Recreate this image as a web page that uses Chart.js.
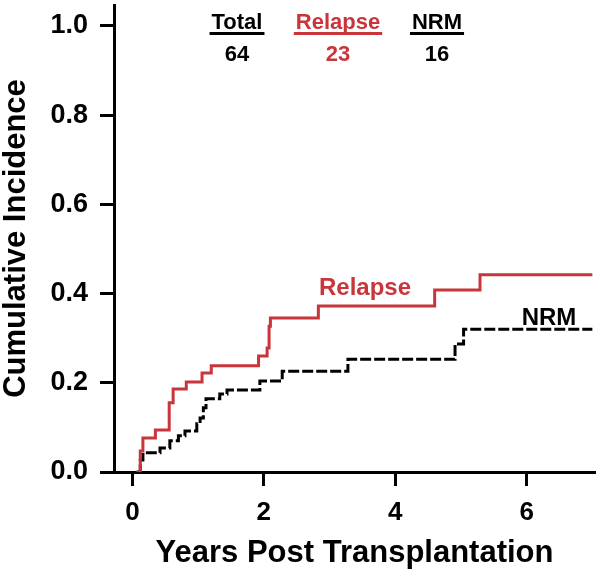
<!DOCTYPE html>
<html>
<head>
<meta charset="utf-8">
<script src="https://cdn.jsdelivr.net/npm/chart.js@4/dist/chart.umd.min.js"></script>
<style>
  html, body { margin: 0; padding: 0; background: #fff; }
</style>
</head>
<body>
<canvas id="cif" width="600" height="579"></canvas>
<script>
// step points: time the step happens (years) and cumulative incidence after it
const relapseYears = [0.06, 0.12, 0.16, 0.35, 0.56, 0.62, 0.82, 1.06, 1.2, 1.92, 2.05, 2.08, 2.1, 2.83, 4.6, 5.29, 7.0];
const relapseCI    = [0, 0.047, 0.076, 0.094, 0.155, 0.186, 0.202, 0.222, 0.238, 0.26, 0.278, 0.327, 0.345, 0.372, 0.408, 0.442, 0.442];
const nrmYears = [0.07, 0.12, 0.16, 0.42, 0.57, 0.7, 0.8, 0.98, 1.03, 1.08, 1.12, 1.33, 1.44, 1.94, 2.28, 3.28, 4.91, 5.04, 7.0];
const nrmCI    = [0, 0.027, 0.043, 0.054, 0.07, 0.081, 0.092, 0.108, 0.121, 0.144, 0.164, 0.175, 0.184, 0.204, 0.226, 0.253, 0.287, 0.32, 0.32];

const yTicks = [0, 0.2, 0.4, 0.6, 0.8, 1.0];
const xTicks = [0, 2, 4, 6];

const headerLabels = ['Total', 'Relapse', 'NRM'];
const headerCounts = [64, 23, 16];

const red = '#c8363c';
const fontFam = '"Liberation Sans", Arial, sans-serif';

Chart.defaults.font.family = fontFam;
Chart.defaults.font.weight = 'bold';
Chart.defaults.color = '#000';

// header table + labels next to the curves
const textPlugin = {
  id: 'cifText',
  afterDraw(chart) {
    const ctx = chart.ctx;
    const xs = chart.scales.x, ys = chart.scales.y;
    const centers = [237, 338, 437];
    const colors = ['#000', red, '#000'];
    ctx.save();
    ctx.textAlign = 'center';
    ctx.textBaseline = 'alphabetic';
    headerLabels.forEach((lab, i) => {
      ctx.fillStyle = colors[i];
      ctx.font = 'bold 22px ' + fontFam;
      ctx.fillText(lab, centers[i], 29);
      const w = ctx.measureText(lab).width;
      ctx.fillRect(centers[i] - w / 2 - 2, 32, w + 4, 3);
      ctx.fillText(String(headerCounts[i]), centers[i], 61);
    });
    ctx.font = 'bold 24px ' + fontFam;
    ctx.fillStyle = red;
    ctx.fillText('Relapse', xs.getPixelForValue(3.54), ys.getPixelForValue(0.397));
    ctx.fillStyle = '#000';
    ctx.fillText('NRM', xs.getPixelForValue(6.34), ys.getPixelForValue(0.33));
    ctx.restore();
  }
};

new Chart(document.getElementById('cif'), {
  type: 'line',
  data: {
    datasets: [{
      label: 'Relapse',
      data: relapseYears.map((t, i) => ({ x: t, y: relapseCI[i] })),
      borderColor: red,
      borderWidth: 3,
      stepped: true,
      pointRadius: 0,
      fill: false
    }, {
      label: 'NRM',
      data: nrmYears.map((t, i) => ({ x: t, y: nrmCI[i] })),
      borderColor: '#000',
      borderWidth: 3,
      borderDash: [11, 3],
      stepped: true,
      pointRadius: 0,
      fill: false
    }]
  },
  options: {
    responsive: false,
    animation: false,
    layout: { padding: { top: 5, right: 5, left: 0, bottom: 0 } },
    plugins: { legend: { display: false }, tooltip: { enabled: false } },
    scales: {
      x: {
        type: 'linear',
        min: -0.28,
        max: 7.04,
        afterBuildTicks: s => { s.ticks = xTicks.map(v => ({ value: v })); },
        afterFit: s => { s.height = 107; s.paddingLeft = 0; s.paddingRight = 0; },
        grid: { drawOnChartArea: false, tickLength: 14, tickWidth: 3, color: '#000' },
        border: { display: true, width: 3, color: '#000' },
        ticks: { font: { size: 26, weight: 'bold' }, padding: 11, maxRotation: 0, callback: v => String(v) },
        title: {
          display: true,
          text: 'Years Post Transplantation',
          font: { size: 31, weight: 'bold', lineHeight: 1 },
          padding: { top: 0, bottom: 10 }
        }
      },
      y: {
        min: 0,
        max: 1.047,
        afterBuildTicks: s => { s.ticks = yTicks.map(v => ({ value: v })); },
        afterFit: s => { s.width = 114; s.paddingTop = 0; s.paddingBottom = 0; },
        grid: { drawOnChartArea: false, tickLength: 14, tickWidth: 3, color: '#000' },
        border: { display: true, width: 3, color: '#000' },
        ticks: { font: { size: 27, weight: 'bold' }, padding: 12, callback: v => v.toFixed(1) },
        title: {
          display: true,
          text: 'Cumulative Incidence',
          font: { size: 31, weight: 'bold', lineHeight: 1 },
          padding: { top: 1, bottom: 0 }
        }
      }
    }
  },
  plugins: [textPlugin]
});
</script>
</body>
</html>
